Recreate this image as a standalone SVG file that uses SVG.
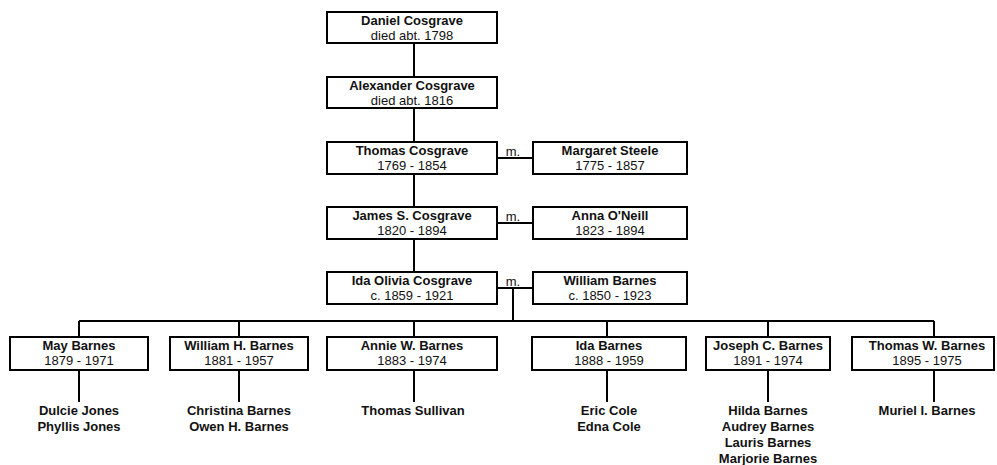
<svg xmlns="http://www.w3.org/2000/svg" width="997" height="465" viewBox="0 0 997 465">
<style>
  .box{fill:#fff;stroke:#000;stroke-width:2}
  .nm{font-family:"Liberation Sans",Arial,sans-serif;font-size:13px;font-weight:bold;fill:#111;text-anchor:middle}
  .dt{font-family:"Liberation Sans",Arial,sans-serif;font-size:13px;fill:#111;text-anchor:middle}
  .m{font-family:"Liberation Sans",Arial,sans-serif;font-size:13px;fill:#111;text-anchor:middle}
  .ln{stroke:#000;stroke-width:2;fill:none}
</style>
<rect width="997" height="465" fill="#fff"/>
<g id="connectors">
  <path class="ln" d="M414 43V77M414 108V142M414 174V207M414 239V272"/>
  <path class="ln" d="M497 158H533M497 223H533M497 288H533"/>
  <path class="ln" d="M513 288V321M79 321H934"/>
  <path class="ln" d="M79 321V337M239 321V337M414 321V337M607 321V337M768 321V337M934 321V337"/>
  <path class="ln" d="M79 370V402M239 370V402M414 370V402M607 370V402M768 370V402M934 370V402"/>
  <text class="m" x="513" y="156">m.</text>
  <text class="m" x="513" y="221">m.</text>
  <text class="m" x="513" y="286">m.</text>
</g>
<g id="daniel"><rect class="box" x="327" y="12" width="170" height="31"/><text class="nm" x="412" y="25">Daniel Cosgrave</text><text class="dt" x="412" y="40">died abt. 1798</text></g>
<g id="alexander"><rect class="box" x="327" y="77" width="170" height="31"/><text class="nm" x="412" y="90">Alexander Cosgrave</text><text class="dt" x="412" y="105">died abt. 1816</text></g>
<g id="thomas"><rect class="box" x="327" y="142" width="170" height="32"/><text class="nm" x="412" y="155">Thomas Cosgrave</text><text class="dt" x="412" y="170">1769 - 1854</text></g>
<g id="margaret"><rect class="box" x="533" y="142" width="154" height="32"/><text class="nm" x="610" y="155">Margaret Steele</text><text class="dt" x="610" y="170">1775 - 1857</text></g>
<g id="james"><rect class="box" x="327" y="207" width="170" height="32"/><text class="nm" x="412" y="220">James S. Cosgrave</text><text class="dt" x="412" y="235">1820 - 1894</text></g>
<g id="anna"><rect class="box" x="533" y="207" width="154" height="32"/><text class="nm" x="610" y="220">Anna O'Neill</text><text class="dt" x="610" y="235">1823 - 1894</text></g>
<g id="idaolivia"><rect class="box" x="327" y="272" width="170" height="32"/><text class="nm" x="412" y="285">Ida Olivia Cosgrave</text><text class="dt" x="412" y="300">c. 1859 - 1921</text></g>
<g id="williambarnes"><rect class="box" x="533" y="272" width="154" height="32"/><text class="nm" x="610" y="285">William Barnes</text><text class="dt" x="610" y="300">c. 1850 - 1923</text></g>
<g id="may"><rect class="box" x="10" y="337" width="138" height="33"/><text class="nm" x="79" y="350">May Barnes</text><text class="dt" x="79" y="365">1879 - 1971</text>
  <text class="nm" x="79" y="415">Dulcie Jones</text><text class="nm" x="79" y="431">Phyllis Jones</text></g>
<g id="williamh"><rect class="box" x="170" y="337" width="138" height="33"/><text class="nm" x="239" y="350">William H. Barnes</text><text class="dt" x="239" y="365">1881 - 1957</text>
  <text class="nm" x="239" y="415">Christina Barnes</text><text class="nm" x="239" y="431">Owen H. Barnes</text></g>
<g id="annie"><rect class="box" x="327" y="337" width="170" height="33"/><text class="nm" x="412" y="350">Annie W. Barnes</text><text class="dt" x="412" y="365">1883 - 1974</text>
  <text class="nm" x="413" y="415">Thomas Sullivan</text></g>
<g id="idabarnes"><rect class="box" x="532" y="337" width="154" height="33"/><text class="nm" x="609" y="350">Ida Barnes</text><text class="dt" x="609" y="365">1888 - 1959</text>
  <text class="nm" x="609" y="415">Eric Cole</text><text class="nm" x="609" y="431">Edna Cole</text></g>
<g id="joseph"><rect class="box" x="706" y="337" width="124" height="33"/><text class="nm" x="768" y="350">Joseph C. Barnes</text><text class="dt" x="768" y="365">1891 - 1974</text>
  <text class="nm" x="768" y="415">Hilda Barnes</text><text class="nm" x="768" y="431">Audrey Barnes</text><text class="nm" x="768" y="447">Lauris Barnes</text><text class="nm" x="768" y="463">Marjorie Barnes</text></g>
<g id="thomasw"><rect class="box" x="852" y="337" width="142" height="33"/><text class="nm" x="927" y="350">Thomas W. Barnes</text><text class="dt" x="927" y="365">1895 - 1975</text>
  <text class="nm" x="927" y="415">Muriel I. Barnes</text></g>
</svg>
